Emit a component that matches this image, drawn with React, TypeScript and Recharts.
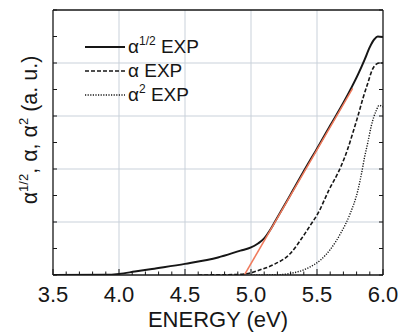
import React from 'react'
import { ComposedChart, Line, XAxis, YAxis, ReferenceLine, Legend } from 'recharts'

const font = '"Liberation Sans", Arial, sans-serif'
const ink = '#161616'

// alpha^(1/2) experiment
const sqrtEnergy = [3.5, 3.9, 4.0, 4.12, 4.25, 4.5, 4.75, 4.92, 5.0, 5.05, 5.1, 5.14, 5.18, 5.3, 5.43, 5.49, 5.6, 5.7, 5.76, 5.81, 5.86, 5.9, 5.935, 5.96, 6.0]
const sqrtValue = [0.0, 0.003, 0.02, 0.065, 0.115, 0.21, 0.33, 0.46, 0.52, 0.59, 0.69, 0.83, 1.0, 1.52, 2.09, 2.34, 2.82, 3.25, 3.53, 3.78, 4.06, 4.3, 4.45, 4.5, 4.49]

// alpha experiment
const alphaEnergy = [4.6, 4.9, 5.0, 5.06, 5.166, 5.3, 5.4, 5.466, 5.5, 5.59, 5.68, 5.733, 5.77, 5.81, 5.85, 5.885, 5.92, 5.95, 5.975, 6.0]
const alphaValue = [0.0, 0.01, 0.04, 0.09, 0.19, 0.41, 0.75, 1.0, 1.13, 1.6, 2.04, 2.38, 2.67, 3.0, 3.35, 3.62, 3.88, 3.98, 4.0, 4.0]

// alpha^2 experiment
const sqEnergy = [5.0, 5.2, 5.3, 5.43, 5.525, 5.6, 5.68, 5.75, 5.81, 5.84, 5.86, 5.885, 5.91, 5.95, 5.97, 6.0]
const sqValue = [0.0, 0.005, 0.03, 0.13, 0.28, 0.48, 0.79, 1.15, 1.6, 1.95, 2.22, 2.5, 2.8, 3.11, 3.2, 3.17]

// linear fit
const fitEnergy = [4.95, 5.77]
const fitValue = [0.0, 3.52]

const xTicks = [3.5, 3.6, 3.7, 3.8, 3.9, 4.0, 4.1, 4.2, 4.3, 4.4, 4.5, 4.6, 4.7, 4.8, 4.9, 5.0, 5.1, 5.2, 5.3, 5.4, 5.5, 5.6, 5.7, 5.8, 5.9, 6.0]
const xGrid = [4.0, 4.5, 5.0, 5.5]
const yTicks = [0, 0.5, 1, 1.5, 2, 2.5, 3, 3.5, 4, 4.5, 5]
const yGrid = [1, 2, 3, 4]

const pts = (xs: number[], ys: number[]) => xs.map((x, i) => ({ x, y: ys[i] }))

const legendItems = [
  { sup: '1/2', dash: undefined, width: 2 },
  { sup: '', dash: '4 2', width: 1.6 },
  { sup: '2', dash: '1.2 1.4', width: 1.4 },
]

const isMajor = (v: number) => Math.abs(v * 2 - Math.round(v * 2)) < 1e-6

const BottomTick = (props: any) => {
  const { x, y, payload } = props
  const major = isMajor(payload.value)
  return (
    <g>
      <line x1={x} x2={x} y1={y} y2={y - (major ? 6 : 3.5)} stroke={ink} strokeWidth={1} />
      {major && (
        <text x={x} y={y + 27} textAnchor="middle" fontSize={22} fontFamily={font} fill={ink}>
          {payload.value.toFixed(1)}
        </text>
      )}
    </g>
  )
}

const TopTick = (props: any) => {
  const { x, y, payload } = props
  const major = isMajor(payload.value)
  return <line x1={x} x2={x} y1={y} y2={y + (major ? 6 : 3.5)} stroke={ink} strokeWidth={1} />
}

const LeftTick = (props: any) => {
  const { x, y } = props
  return <line x1={x} x2={x + 4} y1={y} y2={y} stroke={ink} strokeWidth={1} />
}

const RightTick = (props: any) => {
  const { x, y } = props
  return <line x1={x} x2={x - 4} y1={y} y2={y} stroke={ink} strokeWidth={1} />
}

const renderLegend = () => (
  <div style={{ fontFamily: font, fontSize: 19, color: ink }}>
    {legendItems.map((it, i) => (
      <div key={i} style={{ display: 'flex', alignItems: 'center', height: 24 }}>
        <svg width={43} height={24}>
          <line x1={0} x2={40} y1={12} y2={12} stroke={ink} strokeWidth={it.width} strokeDasharray={it.dash} />
        </svg>
        <span style={{ whiteSpace: 'nowrap' }}>
          α
          {it.sup && <span style={{ fontSize: 12, position: 'relative', top: -8 }}>{it.sup}</span>}
          {' EXP'}
        </span>
      </div>
    ))}
  </div>
)

const yLabel = () => (
  <text transform="translate(37, 130) rotate(-90)" textAnchor="middle" fontSize={21.5} fontFamily={font} fill={ink}>
    α<tspan fontSize={13} dy={-9}>1/2</tspan>
    <tspan dy={9}>, α, α</tspan>
    <tspan fontSize={13} dy={-9}>2</tspan>
    <tspan dy={9}> (a. u.)</tspan>
  </text>
)

const xLabel = (props: any) => {
  const { viewBox } = props
  return (
    <text x={viewBox.x + viewBox.width / 2} y={viewBox.y + 52} textAnchor="middle" fontSize={22} fontFamily={font} fill={ink}>
      ENERGY (eV)
    </text>
  )
}

export default function App() {
  return (
    <div style={{ position: 'absolute', left: 0, top: 0, background: '#fff' }}>
      <ComposedChart width={399} height={332} margin={{ top: 9, right: 15, bottom: 0, left: 0 }}>
        <XAxis
          xAxisId="b"
          dataKey="x"
          type="number"
          domain={[3.5, 6]}
          ticks={xTicks}
          interval={0}
          height={57}
          tickSize={0}
          tickMargin={0}
          tick={<BottomTick />}
          axisLine={{ stroke: ink, strokeWidth: 1.3 }}
          allowDataOverflow
          label={xLabel}
        />
        <XAxis
          xAxisId="t"
          orientation="top"
          type="number"
          domain={[3.5, 6]}
          ticks={xTicks}
          interval={0}
          height={1}
          tickSize={0}
          tickMargin={0}
          tick={<TopTick />}
          axisLine={{ stroke: ink, strokeWidth: 1.3 }}
          allowDataOverflow
        />
        <YAxis
          yAxisId="l"
          type="number"
          domain={[0, 5]}
          ticks={yTicks}
          interval={0}
          width={53}
          tickSize={0}
          tickMargin={0}
          tick={<LeftTick />}
          axisLine={{ stroke: ink, strokeWidth: 1.3 }}
          allowDataOverflow
          label={yLabel}
        />
        <YAxis
          yAxisId="r"
          orientation="right"
          type="number"
          domain={[0, 5]}
          ticks={yTicks}
          interval={0}
          width={1}
          tickSize={0}
          tickMargin={0}
          tick={<RightTick />}
          axisLine={{ stroke: ink, strokeWidth: 1.3 }}
          allowDataOverflow
        />
        {xGrid.map((v) => (
          <ReferenceLine key={'gx' + v} x={v} xAxisId="b" yAxisId="l" stroke="#c9d1da" strokeWidth={1} />
        ))}
        {yGrid.map((v) => (
          <ReferenceLine key={'gy' + v} y={v} xAxisId="b" yAxisId="l" stroke="#c9d1da" strokeWidth={1} />
        ))}
        <Line
          data={pts(sqEnergy, sqValue)}
          dataKey="y"
          xAxisId="b"
          yAxisId="l"
          type="monotone"
          dot={false}
          stroke={ink}
          strokeWidth={1.4}
          strokeDasharray="1.2 1.4"
          isAnimationActive={false}
        />
        <Line
          data={pts(alphaEnergy, alphaValue)}
          dataKey="y"
          xAxisId="b"
          yAxisId="l"
          type="monotone"
          dot={false}
          stroke={ink}
          strokeWidth={1.6}
          strokeDasharray="4 2"
          isAnimationActive={false}
        />
        <Line
          data={pts(sqrtEnergy, sqrtValue)}
          dataKey="y"
          xAxisId="b"
          yAxisId="l"
          type="monotone"
          dot={false}
          stroke={ink}
          strokeWidth={2}
          isAnimationActive={false}
        />
        <Line
          data={pts(fitEnergy, fitValue)}
          dataKey="y"
          xAxisId="b"
          yAxisId="l"
          type="linear"
          dot={false}
          stroke="#f07a5c"
          strokeWidth={1.5}
          isAnimationActive={false}
        />
        <Legend
          layout="vertical"
          align="center"
          verticalAlign="middle"
          content={renderLegend}
          wrapperStyle={{ left: 85, top: 35, width: 'auto' }}
        />
      </ComposedChart>
    </div>
  )
}
